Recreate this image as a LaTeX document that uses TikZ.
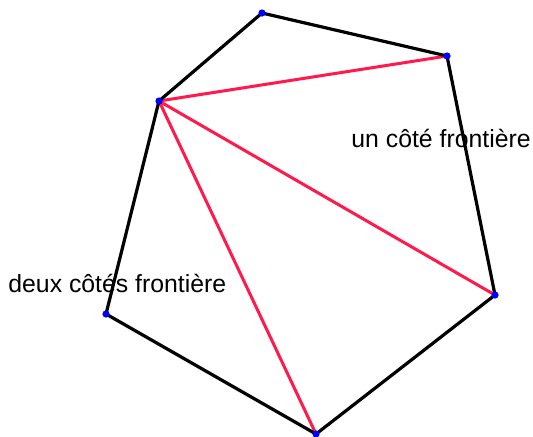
\documentclass[tikz,border=0pt]{standalone}
\usepackage{fontspec}
\setmainfont{Liberation Sans}
\usetikzlibrary{positioning}
\definecolor{Edge}{HTML}{000000}
\definecolor{Diag}{HTML}{FF1A4B}
\definecolor{Vert}{HTML}{0000FF}
\tikzset{
  side/.style={Edge,line width=1.6pt,line join=round},
  diag/.style={Diag,line width=1.5pt},
  vtx/.style={circle,fill=Vert,inner sep=0pt,minimum size=3.6pt},
  lbl/.style={font=\fontsize{12.4}{14}\selectfont,inner sep=0pt}
}
\begin{document}
\begin{tikzpicture}[x=0.5pt,y=-0.5pt]
  \useasboundingbox (0,0) rectangle (533,436);
  % polygon vertices
  \coordinate (a) at (262,13);
  \coordinate (b) at (447,56);
  \coordinate (c) at (495,295);
  \coordinate (d) at (316,434);
  \coordinate (e) at (106,314);
  \coordinate (f) at (159,101);
  % diagonals from f
  \draw[diag] (f) -- (b);
  \draw[diag] (f) -- (c);
  \draw[diag] (f) -- (d);
  % boundary
  \draw[side] (a) -- (b) -- (c) -- (d) -- (e) -- (f) -- cycle;
  \foreach \v in {a,b,c,d,e,f}
    \node[vtx] (p\v) at (\v) {};
  \node[lbl,anchor=base west] (one) at (351,147) {un côté frontière};
  \node[lbl,anchor=base west] (two) at (8,292) {deux côtés frontière};
\end{tikzpicture}
\end{document}
